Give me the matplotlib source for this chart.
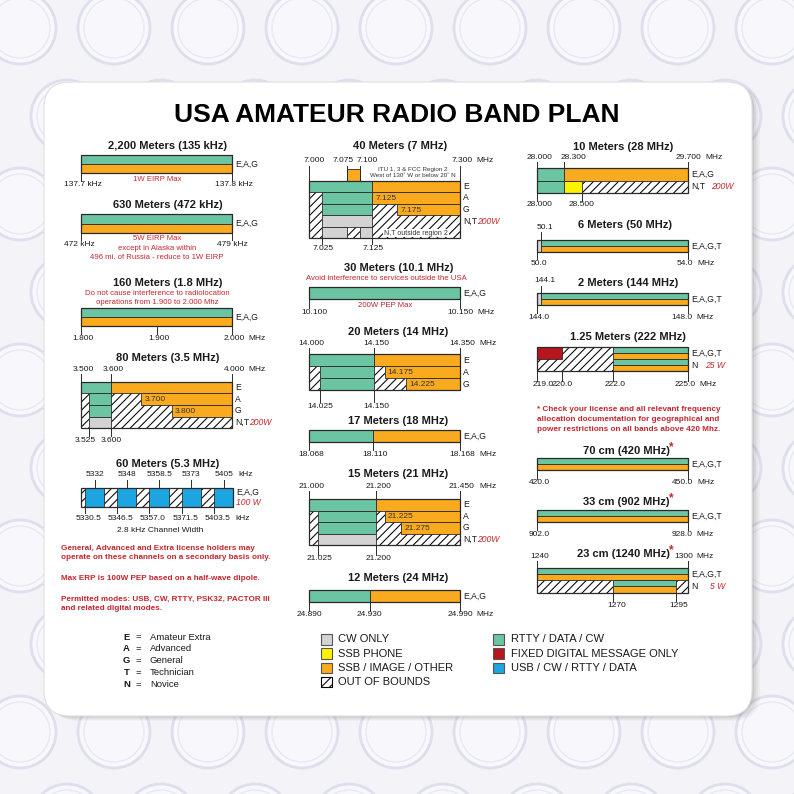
import matplotlib.pyplot as plt
import matplotlib.transforms as mtransforms
from matplotlib.patches import Rectangle, FancyBboxPatch, Circle
from matplotlib import font_manager

plt.rcParams["font.family"] = ["Liberation Sans", "DejaVu Sans"]
plt.rcParams["hatch.linewidth"] = 0.75

# colours for each operating mode
COLORS = {"cw": "#d3d3d3", "ssb": "#fff200", "img": "#f9aa1e", "rtty": "#6cc5a2",
          "fixed": "#b9151d", "usb": "#1ca5e1"}
EDGE = "#2a2a2a"
RED = "#c4262e"
INK = "#1a1a1a"

# ---- band data: each row is a list of (start, end, mode[, rows spanned]) ----
m2200_cells = [[(137.7, 137.8, "rtty")], [(137.7, 137.8, "img")]]
m2200_bottom = [(137.7, "137.7 kHz"), (137.8, "137.8 kHz")]

m630_cells = [[(472, 479, "rtty")], [(472, 479, "img")]]
m630_bottom = [(472, "472 kHz", -2), (479, "479 kHz", 0)]

m160_cells = [[(1.8, 2.0, "rtty")], [(1.8, 2.0, "img")]]
m160_bottom = [(1.8, "1.800"), (1.9, "1.900"), (2.0, "2.000")]

m80_cells = [
    [(3.500, 3.600, "rtty"), (3.600, 4.000, "img")],
    [(3.500, 3.525, "oob"), (3.525, 3.600, "rtty"), (3.600, 3.700, "oob"), (3.700, 4.000, "img")],
    [(3.500, 3.525, "oob"), (3.525, 3.600, "rtty"), (3.600, 3.800, "oob"), (3.800, 4.000, "img")],
    [(3.500, 3.525, "oob"), (3.525, 3.600, "cw"), (3.600, 4.000, "oob")],
]
m80_top = [(3.5, "3.500"), (3.6, "3.600"), (4.0, "4.000")]
m80_bottom = [(3.525, "3.525", -3), (3.6, "3.600", 0)]
m80_inner = [(1, 3.700, "3.700"), (2, 3.800, "3.800")]

m60_centers = ["5332", "5348", "5358.5", "5373", "5405"]
m60_edges = ["5330.5", "5346.5", "5357.0", "5371.5", "5403.5"]

m40_cells = [
    [(7.000, 7.125, "rtty"), (7.125, 7.300, "img")],
    [(7.000, 7.025, "oob"), (7.025, 7.125, "rtty"), (7.125, 7.300, "img")],
    [(7.000, 7.025, "oob"), (7.025, 7.125, "rtty"), (7.125, 7.175, "oob"), (7.175, 7.300, "img")],
    [(7.000, 7.025, "oob"), (7.025, 7.125, "cw"), (7.125, 7.300, "oob")],
    [(7.000, 7.025, "oob"), (7.025, 7.075, "cw"), (7.075, 7.100, "oob"), (7.100, 7.125, "cw"),
     (7.125, 7.300, "oob")],
]
m40_itu = [(-1, 7.075, 7.100, "img")]
m40_top = [(7.0, "7.000", 5), (7.075, "7.075", -4), (7.1, "7.100", 8), (7.3, "7.300")]
m40_bottom = [(7.025, "7.025", 1), (7.125, "7.125", 1)]
m40_inner = [(1, 7.125, "7.125"), (2, 7.175, "7.175")]

m30_cells = [[(10.100, 10.150, "rtty")]]
m30_bottom = [(10.10, "10.100", 5), (10.15, "10.150", 0)]

m20_cells = [
    [(14.000, 14.150, "rtty"), (14.150, 14.350, "img")],
    [(14.000, 14.025, "oob"), (14.025, 14.150, "rtty"), (14.150, 14.175, "oob"), (14.175, 14.350, "img")],
    [(14.000, 14.025, "oob"), (14.025, 14.150, "rtty"), (14.150, 14.225, "oob"), (14.225, 14.350, "img")],
]
m20_top = [(14.0, "14.000"), (14.15, "14.150"), (14.35, "14.350")]
m20_bottom = [(14.025, "14.025", 0), (14.15, "14.150")]
m20_inner = [(1, 14.175, "14.175"), (2, 14.225, "14.225")]

m17_cells = [[(18.068, 18.110, "rtty"), (18.110, 18.168, "img")]]
m17_bottom = [(18.068, "18.068"), (18.110, "18.110"), (18.168, "18.168")]

m15_cells = [
    [(21.000, 21.200, "rtty"), (21.200, 21.450, "img")],
    [(21.000, 21.025, "oob"), (21.025, 21.200, "rtty"), (21.200, 21.225, "oob"), (21.225, 21.450, "img")],
    [(21.000, 21.025, "oob"), (21.025, 21.200, "rtty"), (21.200, 21.275, "oob"), (21.275, 21.450, "img")],
    [(21.000, 21.025, "oob"), (21.025, 21.200, "cw"), (21.200, 21.450, "oob")],
]
m15_top = [(21.0, "21.000"), (21.2, "21.200"), (21.45, "21.450")]
m15_bottom = [(21.025, "21.025"), (21.2, "21.200")]
m15_inner = [(1, 21.225, "21.225"), (2, 21.275, "21.275")]

m12_cells = [[(24.890, 24.930, "rtty"), (24.930, 24.990, "img")]]
m12_bottom = [(24.89, "24.890", 0), (24.93, "24.930", 0), (24.99, "24.990", 0)]

m10_cells = [
    [(28.0, 28.3, "rtty"), (28.3, 29.7, "img")],
    [(28.0, 28.3, "rtty"), (28.3, 28.5, "ssb"), (28.5, 29.7, "oob")],
]
m10_top = [(28.0, "28.000"), (28.3, "28.300", 10), (29.7, "29.700", 0)]
m10_bottom = [(28.0, "28.000"), (28.5, "28.500", 0)]

m6_cells = [[(50.0, 50.1, "cw", 2), (50.1, 54.0, "rtty")], [(50.1, 54.0, "img")]]
m6_top = [(50.1, "50.1", 4)]
m6_bottom = [(50.0, "50.0"), (54.0, "54.0", -3)]

m2_cells = [[(144.0, 144.1, "cw", 2), (144.1, 148.0, "rtty")], [(144.1, 148.0, "img")]]
m2_top = [(144.1, "144.1", 4)]
m2_bottom = [(144.0, "144.0"), (148.0, "148.0", -6)]

m125_cells = [
    [(219.0, 220.0, "fixed", 2), (220.0, 222.0, "oob", 4), (222.0, 225.0, "rtty")],
    [(222.0, 225.0, "img")],
    [(219.0, 220.0, "oob", 2), (222.0, 225.0, "rtty")],
    [(222.0, 225.0, "img")],
]
m125_bottom = [(219.0, "219.0", 6), (220.0, "220.0", 0), (222.0, "222.0"), (225.0, "225.0", -3)]

m70_cells = [[(420.0, 450.0, "rtty")], [(420.0, 450.0, "img")]]
m70_bottom = [(420.0, "420.0"), (450.0, "450.0", -6)]

m33_cells = [[(902.0, 928.0, "rtty")], [(902.0, 928.0, "img")]]
m33_bottom = [(902.0, "902.0"), (928.0, "928.0", -6)]

m23_cells = [
    [(1240, 1300, "rtty")],
    [(1240, 1300, "img")],
    [(1240, 1270, "oob", 2), (1270, 1295, "rtty"), (1295, 1300, "oob", 2)],
    [(1270, 1295, "img")],
]
m23_top = [(1240, "1240"), (1300, "1300", -5)]
m23_bottom = [(1270, "1270", 4), (1295, "1295", 3)]

legend_left = [("cw", "CW ONLY"), ("ssb", "SSB PHONE"), ("img", "SSB / IMAGE / OTHER"),
               ("oob", "OUT OF BOUNDS")]
legend_right = [("rtty", "RTTY / DATA / CW"), ("fixed", "FIXED DIGITAL MESSAGE ONLY"),
                ("usb", "USB / CW / RTTY / DATA")]
license_codes = ["E", "A", "G", "T", "N"]
license_names = ["Amateur Extra", "Advanced", "General", "Technician", "Novice"]

W = H = 794
fig = plt.figure(figsize=(W / 100, H / 100), dpi=100)
fig.patch.set_facecolor("#f3f3f8")
page = fig.add_axes([0, 0, 1, 1])
page.set_xlim(0, W)
page.set_ylim(H, 0)
page.axis("off")


def px(dx):
    return mtransforms.ScaledTranslation(dx / 100, 0, fig.dpi_scale_trans)


def note(x, y, s, size=5.6, color=RED, **kw):
    kw.setdefault("ha", "center")
    return page.text(x, y, s, fontsize=size, color=color, va="center", **kw)


def title(x, y, s, star=False):
    t = page.text(x, y + 1, s, fontsize=8, weight="bold", color=INK, ha="center", va="center")
    if star:
        page.annotate("*", xy=(1, 0.3), xycoords=t, ha="left", va="bottom", fontsize=8.5,
                      weight="bold", color=RED)


def draw_cell(ax, r, f0, f1, mode, span=1):
    if mode == "oob":
        ax.barh(r, f1 - f0, height=span, left=f0, align="edge", color="white",
                edgecolor="black", hatch="////", lw=0, zorder=1, clip_on=False)
    else:
        ax.barh(r, f1 - f0, height=span, left=f0, align="edge", color=COLORS[mode],
                edgecolor=EDGE, lw=0.6, zorder=2, clip_on=False)


def band(box, flim, cells, top=(), top_y=0, bottom=(), bottom_y=0, unit=None,
         rows=(), power=(), inner=(), extra=()):
    x0, x1, y0, y1 = box
    n = len(cells)
    ax = fig.add_axes([x0 / W, 1 - y1 / H, (x1 - x0) / W, (y1 - y0) / H])
    ax.set_xlim(flim)
    ax.set_ylim(n, 0)
    ax.axis("off")
    xb = mtransforms.blended_transform_factory(ax.transData, page.transData)
    yb = mtransforms.blended_transform_factory(page.transData, ax.transData)
    for r, row in enumerate(cells):
        for seg in row:
            draw_cell(ax, r, *seg)
    for seg in extra:
        draw_cell(ax, *seg)
    ax.add_patch(Rectangle((flim[0], 0), flim[1] - flim[0], n, fill=False,
                           edgecolor=EDGE, lw=0.9, zorder=4, clip_on=False))
    labels = {}
    for side, ticks, ty in (("top", top, top_y), ("bottom", bottom, bottom_y)):
        labels[side] = []
        for t in ticks:
            f, s = t[0], t[1]
            dx = t[2] if len(t) > 2 else 2
            labels[side].append(ax.text(f, ty, s, transform=xb + px(dx), ha="center",
                                        va="center", fontsize=6, color=INK))
            ys = [ty + 4.5, y0] if side == "top" else [y1, ty - 4.5]
            ax.plot([f, f], ys, transform=xb, color=EDGE, lw=0.7, zorder=5, clip_on=False)
    if unit:
        ax.annotate("MHz", xy=(1, 0.5), xycoords=labels[unit][-1], xytext=(4, 0),
                    textcoords="offset pixels", ha="left", va="center", fontsize=6, color=INK)
    for rp, s in rows:
        ax.text(x1 + 3, rp, s, transform=yb, ha="left", va="center", fontsize=6.2, color=INK)
    for rp, s, dx in power:
        ax.text(x1 + 3 + dx, rp, s, transform=yb, ha="left", va="center", fontsize=6.2,
                color=RED, style="italic")
    for r, f, s in inner:
        ax.annotate(s, xy=(f, r + 0.55), xytext=(3, 0), textcoords="offset pixels",
                    ha="left", va="center", fontsize=6, color="#333333", zorder=6)
    return ax


# ---- background with faint watermark and card ----
for j in range(10):
    for i in range(10):
        cx = 20 + 94 * i + (47 if j % 2 else 0)
        cy = 28 + 88 * j
        page.add_patch(Circle((cx, cy), 36, facecolor="#f8f8fc", edgecolor="#dedeed",
                              lw=2.0, zorder=0))
        page.add_patch(Circle((cx, cy), 30, facecolor="none", edgecolor="#e8e8f2",
                              lw=1.0, zorder=0))
for k, a in enumerate([0.05, 0.07, 0.09, 0.12]):
    off = 8 - 2 * k
    page.add_patch(FancyBboxPatch((44 + off, 82 + off * 0.6), 708, 634,
                                  boxstyle="round,pad=0,rounding_size=26",
                                  facecolor="#6a6a6a", edgecolor="none", alpha=a, zorder=1))
page.add_patch(FancyBboxPatch((44, 82), 708, 634, boxstyle="round,pad=0,rounding_size=26",
                              facecolor="white", edgecolor="#e0e0e0", lw=0.8, zorder=2))

names = {f.name for f in font_manager.fontManager.ttflist}
if "Liberation Sans Narrow" in names:
    page.text(397, 116, "USA AMATEUR RADIO BAND PLAN", family="Liberation Sans Narrow",
              weight="bold", fontsize=23, ha="center", va="center", color="black")
else:
    page.text(397, 115, "USA AMATEUR RADIO BAND PLAN", weight="bold", fontsize=19,
              ha="center", va="center", color="black")

# ---- left column ----
L0, L1 = 81, 232
title(168, 145, "2,200 Meters (135 kHz)")
band((L0, L1, 155, 173), (137.7, 137.8), m2200_cells, bottom=m2200_bottom, bottom_y=185,
     rows=[(1, "E,A,G")])
note(157, 179.5, "1W EIRP Max")

title(168, 204, "630 Meters (472 kHz)")
band((L0, L1, 214.3, 232.7), (472, 479), m630_cells, bottom=m630_bottom, bottom_y=244.5,
     rows=[(1, "E,A,G")])
note(157, 239, "5W EIRP Max")
note(157, 248.3, "except in Alaska within")
note(157, 257.7, "496 mi. of Russia - reduce to 1W EIRP")

title(168, 281.7, "160 Meters (1.8 MHz)")
note(157, 293.3, "Do not cause interference to radiolocation")
note(157, 302.7, "operations from 1.900 to 2.000 Mhz")
band((L0, L1, 308.3, 326), (1.8, 2.0), m160_cells, bottom=m160_bottom, bottom_y=338.5,
     unit="bottom", rows=[(1, "E,A,G")])

title(168, 357.3, "80 Meters (3.5 MHz)")
band((L0, L1, 381.7, 428.3), (3.5, 4.0), m80_cells, top=m80_top, top_y=369.5,
     bottom=m80_bottom, bottom_y=440.5, unit="top",
     rows=[(0.5, "E"), (1.5, "A"), (2.5, "G"), (3.5, "N,T")], power=[(3.5, "200W", 14)],
     inner=m80_inner)

# 60 meters: five channels drawn as equal slots
title(168, 463.3, "60 Meters (5.3 MHz)")
x0, x1, y0, y1 = L0, 233.3, 487.7, 506.7
lead, gap = 0.2, 0.67
n60 = len(m60_centers)
span = lead + n60 + (n60 - 1) * gap
ax60 = fig.add_axes([x0 / W, 1 - y1 / H, (x1 - x0) / W, (y1 - y0) / H])
ax60.set_xlim(0, span)
ax60.set_ylim(1, 0)
ax60.axis("off")
xb60 = mtransforms.blended_transform_factory(ax60.transData, page.transData)
draw_cell(ax60, 0, 0, span, "oob")
for i in range(n60):
    left = lead + i * (1 + gap)
    draw_cell(ax60, 0, left, left + 1, "usb")
    tt = ax60.text(left + 0.5, 475, m60_centers[i], transform=xb60, ha="center", va="center",
                   fontsize=6, color=INK)
    ax60.plot([left + 0.5] * 2, [479.5, y0], transform=xb60, color=EDGE, lw=0.7, clip_on=False)
    bt = ax60.text(left, 518, m60_edges[i], transform=xb60 + px(3.5), ha="center", va="center",
                   fontsize=6, color=INK)
    ax60.plot([left] * 2, [y1, 512.5], transform=xb60, color=EDGE, lw=0.7, clip_on=False)
ax60.add_patch(Rectangle((0, 0), span, 1, fill=False, edgecolor=EDGE, lw=0.9, zorder=4,
                         clip_on=False))
for lab in (tt, bt):
    ax60.annotate("kHz", xy=(1, 0.5), xycoords=lab, xytext=(5, 0), textcoords="offset pixels",
                  ha="left", va="center", fontsize=6, color=INK)
page.text(236.5, 492.7, "E,A,G", fontsize=6.2, color=INK, va="center")
page.text(236.5, 502.7, "100 W", fontsize=6.2, color=RED, style="italic", va="center")
note(160, 530.7, "2.8 kHz Channel Width", size=6, color=INK)

for y, s in [(548.3, "General, Advanced and Extra license holders may"),
             (557.7, "operate on these channels on a secondary basis only."),
             (578.3, "Max ERP is 100W PEP based on a half-wave dipole."),
             (599, "Permitted modes: USB, CW, RTTY, PSK32, PACTOR III"),
             (609, "and related digital modes.")]:
    note(61, y, s, size=5.9, ha="left", weight="bold")

for k, (c, s) in enumerate(zip(license_codes, license_names)):
    y = 637 + 11.8 * k
    page.text(126.7, y, c, fontsize=6.8, weight="bold", ha="center", va="center", color=INK)
    page.text(138.3, y, "=", fontsize=6.8, ha="center", va="center", color=INK)
    page.text(150, y, s, fontsize=6.8, ha="left", va="center", color=INK)

# ---- middle column ----
M0, M1 = 309.3, 460
title(400, 145, "40 Meters (7 MHz)")
ax40 = band((M0, M1, 180.7, 238.3), (7.0, 7.3), m40_cells, top=m40_top, top_y=161,
            bottom=m40_bottom, bottom_y=248.5, unit="top",
            rows=[(0.5, "E"), (1.5, "A"), (2.5, "G"), (3.5, "N,T")], power=[(3.5, "200W", 14)],
            inner=m40_inner, extra=m40_itu)
ax40.text((7.125 + 7.3) / 2, 4.55, "N,T outside region 2", ha="center", va="center",
          fontsize=5, color="#333333", zorder=6,
          bbox=dict(facecolor="white", edgecolor="none", pad=0.5))
note(413, 169.5, "ITU 1, 3 & FCC Region 2", size=4.5, color="#333333")
note(413, 175.8, "West of 130˚ W or below 20˚ N", size=4.5, color="#333333")

title(398.3, 266.7, "30 Meters (10.1 MHz)")
note(386.7, 279, "Avoid interference to services outside the USA")
band((M0, M1, 287.3, 299), (10.1, 10.15), m30_cells, bottom=m30_bottom, bottom_y=312,
     unit="bottom", rows=[(0.5, "E,A,G")])
note(385, 305.7, "200W PEP Max")

title(398.3, 331, "20 Meters (14 MHz)")
band((M0, M1, 354.3, 390), (14.0, 14.35), m20_cells, top=m20_top, top_y=343.5,
     bottom=m20_bottom, bottom_y=406, unit="top",
     rows=[(0.5, "E"), (1.5, "A"), (2.5, "G")], inner=m20_inner)

title(398.3, 420, "17 Meters (18 MHz)")
band((M0, M1, 430, 441.7), (18.068, 18.168), m17_cells, bottom=m17_bottom, bottom_y=454.5,
     unit="bottom", rows=[(0.5, "E,A,G")])

title(398.3, 473.3, "15 Meters (21 MHz)")
band((M0, M1, 499, 545), (21.0, 21.45), m15_cells, top=m15_top, top_y=486,
     bottom=m15_bottom, bottom_y=559, unit="top",
     rows=[(0.5, "E"), (1.5, "A"), (2.5, "G"), (3.5, "N,T")], power=[(3.5, "200W", 14)],
     inner=m15_inner)

title(398.3, 576.7, "12 Meters (24 MHz)")
band((M0, M1, 590, 601.7), (24.89, 24.99), m12_cells, bottom=m12_bottom, bottom_y=615,
     unit="bottom", rows=[(0.5, "E,A,G")])

for k, (m, s) in enumerate(legend_left):
    y = 639.3 + 14.3 * k
    if m == "oob":
        page.add_patch(Rectangle((321, y - 5.2), 10.5, 10.5, facecolor="white", edgecolor="black",
                                 hatch="////", lw=0.8, zorder=3))
    else:
        page.add_patch(Rectangle((321, y - 5.2), 10.5, 10.5, facecolor=COLORS[m],
                                 edgecolor="#555555", lw=0.8, zorder=3))
    page.text(338, y, s, fontsize=8, ha="left", va="center", color=INK)
for k, (m, s) in enumerate(legend_right):
    y = 639.3 + 14.3 * k
    page.add_patch(Rectangle((493, y - 5.2), 10.5, 10.5, facecolor=COLORS[m],
                             edgecolor="#555555", lw=0.8, zorder=3))
    page.text(511, y, s, fontsize=8, ha="left", va="center", color=INK)

# ---- right column ----
R0, R1 = 537.3, 688.3
title(623.3, 146, "10 Meters (28 MHz)")
band((R0, R1, 168.3, 192.7), (28.0, 29.7), m10_cells, top=m10_top, top_y=157.5,
     bottom=m10_bottom, bottom_y=205, unit="top", rows=[(0.5, "E,A,G"), (1.5, "N,T")],
     power=[(1.5, "200W", 20)])

title(625, 224, "6 Meters (50 MHz)")
band((R0, R1, 240, 251.7), (50.0, 54.0), m6_cells, top=m6_top, top_y=227.5,
     bottom=m6_bottom, bottom_y=263.5, unit="bottom", rows=[(1, "E,A,G,T")])

title(628.3, 281.7, "2 Meters (144 MHz)")
band((R0, R1, 292.7, 305), (144.0, 148.0), m2_cells, top=m2_top, top_y=281,
     bottom=m2_bottom, bottom_y=317.5, unit="bottom", rows=[(1, "E,A,G,T")])

title(628.3, 335.7, "1.25 Meters (222 MHz)")
band((R0, R1, 347.3, 371), (219.0, 225.0), m125_cells, bottom=m125_bottom, bottom_y=385,
     unit="bottom", rows=[(1, "E,A,G,T"), (3, "N")], power=[(3, "25 W", 14)])

for y, s in [(409.3, "* Check your license and all relevant frequency"),
             (419.3, "allocation documentation for geographical and"),
             (429.3, "power restrictions on all bands above 420 Mhz.")]:
    note(628.3, y, s, size=5.9, weight="bold")

title(626, 450, "70 cm (420 MHz)", star=True)
band((R0, R1, 457.7, 470), (420.0, 450.0), m70_cells, bottom=m70_bottom, bottom_y=483,
     unit="bottom", rows=[(1, "E,A,G,T")])

title(626, 501, "33 cm (902 MHz)", star=True)
band((R0, R1, 510, 522), (902.0, 928.0), m33_cells, bottom=m33_bottom, bottom_y=534.5,
     unit="bottom", rows=[(1, "E,A,G,T")])

title(623, 552.7, "23 cm (1240 MHz)", star=True)
band((R0, R1, 567.7, 592.7), (1240, 1300), m23_cells, top=m23_top, top_y=556.5,
     bottom=m23_bottom, bottom_y=605.5, unit="top", rows=[(1, "E,A,G,T"), (3, "N")],
     power=[(3, "5 W", 19)])

fig.savefig("out.png", dpi=100)
